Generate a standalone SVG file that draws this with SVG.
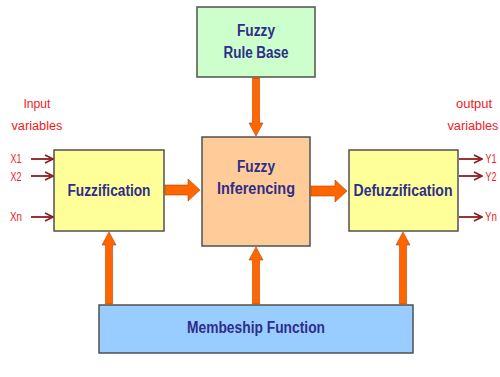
<svg xmlns="http://www.w3.org/2000/svg" width="500" height="377" viewBox="0 0 500 377">
<defs>
<marker id="thin" viewBox="0 0 10 10" refX="9" refY="5" markerWidth="10" markerHeight="10" markerUnits="userSpaceOnUse" orient="auto">
<path d="M1,1 L9,5 L1,9" fill="none" stroke="#8b1f1f" stroke-width="1.6"/>
</marker>
</defs>
<style>
.box{stroke:#505050;stroke-width:1.5}
.lbl{font-family:"Liberation Sans",Arial,sans-serif;font-size:16px;font-weight:bold;fill:#2e2e8a;text-anchor:middle}
.red{font-family:"Liberation Sans",Arial,sans-serif;font-size:12px;fill:#f02020;text-anchor:middle}
.io{stroke:#8b1f1f;stroke-width:1.8;fill:none}
.fat{fill:#ff6600;stroke:#c04000;stroke-width:0.6}
</style>
<rect width="500" height="377" fill="#ffffff"/>
<g id="rulebase">
<rect class="box" x="197" y="7" width="118" height="70" fill="#ccffcc"/>
<text class="lbl" x="256" y="36" textLength="38" lengthAdjust="spacingAndGlyphs">Fuzzy</text>
<text class="lbl" x="256" y="58" textLength="65" lengthAdjust="spacingAndGlyphs">Rule Base</text>
</g>
<g id="inferencing">
<rect class="box" x="202" y="137" width="108" height="109" fill="#ffcc99"/>
<text class="lbl" x="256" y="172" textLength="38" lengthAdjust="spacingAndGlyphs">Fuzzy</text>
<text class="lbl" x="256" y="194" textLength="78" lengthAdjust="spacingAndGlyphs">Inferencing</text>
</g>
<g id="fuzzification">
<rect class="box" x="54" y="150" width="110" height="81" fill="#ffff99"/>
<text class="lbl" x="109" y="196" textLength="83" lengthAdjust="spacingAndGlyphs">Fuzzification</text>
</g>
<g id="defuzzification">
<rect class="box" x="349" y="150" width="109" height="81" fill="#ffff99"/>
<text class="lbl" x="403" y="196" textLength="99" lengthAdjust="spacingAndGlyphs">Defuzzification</text>
</g>
<g id="membership">
<rect class="box" x="99" y="305" width="314" height="48" fill="#99ccff"/>
<text class="lbl" x="256" y="333" textLength="138" lengthAdjust="spacingAndGlyphs">Membeship Function</text>
</g>
<g id="labels">
<text class="red" x="37" y="108" textLength="27" lengthAdjust="spacingAndGlyphs">Input</text>
<text class="red" x="37" y="130" textLength="51" lengthAdjust="spacingAndGlyphs">variables</text>
<text class="red" x="474" y="108" textLength="36" lengthAdjust="spacingAndGlyphs">output</text>
<text class="red" x="473" y="130" textLength="51" lengthAdjust="spacingAndGlyphs">variables</text>
<text class="red" x="16" y="163" textLength="11" lengthAdjust="spacingAndGlyphs">X1</text>
<text class="red" x="16" y="181" textLength="11" lengthAdjust="spacingAndGlyphs">X2</text>
<text class="red" x="16" y="221" textLength="12" lengthAdjust="spacingAndGlyphs">Xn</text>
<text class="red" x="491" y="163" textLength="11" lengthAdjust="spacingAndGlyphs">Y1</text>
<text class="red" x="491" y="181" textLength="11" lengthAdjust="spacingAndGlyphs">Y2</text>
<text class="red" x="491" y="221" textLength="12" lengthAdjust="spacingAndGlyphs">Yn</text>
</g>
<g id="connectors">
<line class="io" x1="31" y1="159" x2="53" y2="159" marker-end="url(#thin)"/>
<line class="io" x1="31" y1="176" x2="53" y2="176" marker-end="url(#thin)"/>
<line class="io" x1="31" y1="217" x2="53" y2="217" marker-end="url(#thin)"/>
<line class="io" x1="459" y1="159" x2="482" y2="159" marker-end="url(#thin)"/>
<line class="io" x1="459" y1="176" x2="482" y2="176" marker-end="url(#thin)"/>
<line class="io" x1="459" y1="217" x2="482" y2="217" marker-end="url(#thin)"/>
<path class="fat" d="M252.5,78 H259.5 V123 H263 L256,136 L249,123 H252.5 Z"/>
<path class="fat" d="M165,185 H188 V179 L200,190 L188,201 V195 H165 Z"/>
<path class="fat" d="M311,186 H335 V180 L347,191 L335,202 V196 H311 Z"/>
<path class="fat" d="M105.5,304 V245 H102 L109,232 L116,245 H112.5 V304 Z"/>
<path class="fat" d="M252.5,304 V260 H249 L256,247 L263,260 H259.5 V304 Z"/>
<path class="fat" d="M399.5,304 V245 H396 L403,232 L410,245 H406.5 V304 Z"/>
</g>
</svg>
